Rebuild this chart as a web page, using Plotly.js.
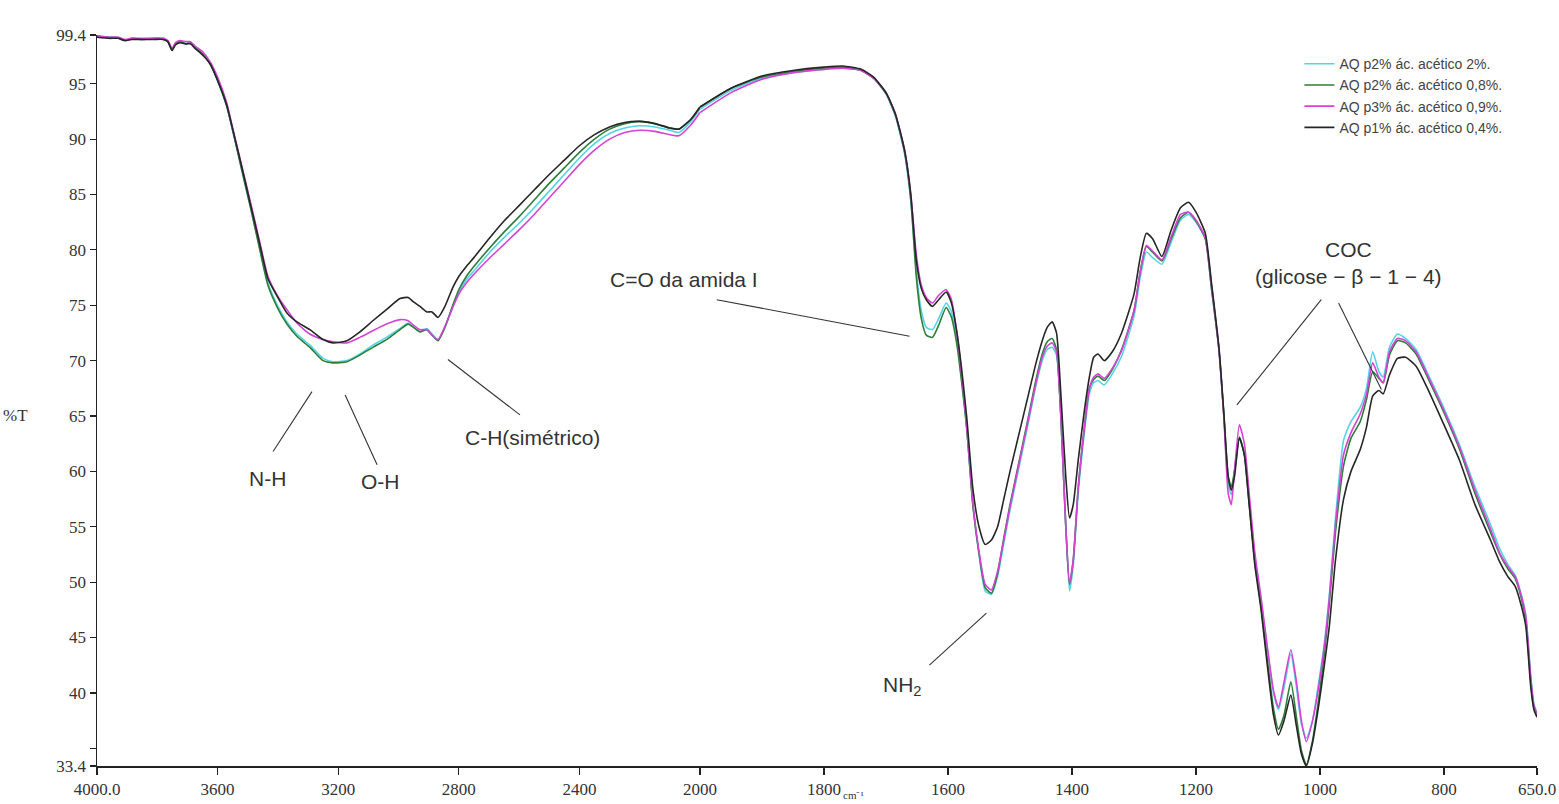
<!DOCTYPE html>
<html>
<head>
<meta charset="utf-8">
<script src="https://cdn.plot.ly/plotly-3.0.1.min.js"></script>
<style>html,body{margin:0;padding:0;background:#fff;}#chart{width:1559px;height:804px;}</style>
</head>
<body>
<div id="chart"></div>
<script>
// Wavenumbers (cm-1), 4000 -> 650
const wavenumber = [
  4000,3960,3930,3907,3885,3850,3810,3780,
  3765,3751,3740,3725,3705,3690,3675,3650,
  3625,3600,3570,3550,3520,3490,3460,3433,
  3400,3370,3337,3294,3250,3217,3171,3128,
  3085,3040,2995,2968,2950,2929,2906,2889,
  2869,2846,2820,2800,2775,2750,2700,2650,
  2600,2550,2500,2450,2400,2350,2300,2250,
  2200,2150,2100,2070,2030,2000,
  1950,1900,1850,1800,1770,1740,1720,
  1700,1685,1670,1660,1651,1643,1635,1625,
  1615,1603,1595,1585,1570,1560,1550,1540,
  1530,1520,1510,1500,1485,1470,1458,1448,
  1440,1432,1425,1418,1410,1404,1398,1390,
  1380,1372,1365,1358,1348,1335,1320,1300,
  1290,1280,1270,1255,1240,1225,1212,1200,
  1185,1175,1163,1155,1148,1143,1138,1130,
  1122,1115,1105,1095,1085,1075,1067,1058,
  1047,1038,1030,1022,1012,1002,993,985,
  975,962,950,935,925,915,905,898,
  888,875,862,845,825,800,775,750,
  725,710,697,685,675,668,660,655,650
];

// %T — AQ p2% ác. acético 2%. (cyan)
const tP2_20 = [
  99.3,99.2,99.2,98.9,99.1,99.0,99.1,99.1,
  98.8,98.1,98.6,98.8,98.6,98.7,98.3,97.7,
  96.8,95.3,93.0,90.8,87.3,83.8,80.2,77.0,
  74.9,73.5,72.4,71.4,70.2,69.9,70.0,70.6,
  71.4,72.1,72.9,73.4,73.0,72.6,72.9,72.4,
  71.9,73.0,74.9,76.2,77.3,78.1,79.7,81.1,
  82.4,83.8,85.3,86.8,88.3,89.6,90.5,91.0,
  91.2,91.1,90.8,90.6,91.6,92.7,
  94.4,95.5,96.0,96.3,96.4,96.2,95.5,
  94.1,92.1,88.7,84.5,78.0,74.5,73.0,72.8,
  73.8,75.2,74.5,71.5,64.0,57.0,52.5,49.2,
  48.9,50.5,53.5,56.5,60.5,64.5,67.8,70.0,
  71.0,71.2,70.5,65.0,55.0,49.2,51.5,58.0,
  63.5,67.0,68.0,68.2,67.8,68.8,70.4,74.0,
  77.5,79.8,79.3,78.7,80.7,82.7,83.2,82.5,
  81.0,76.5,71.0,65.0,58.8,57.9,60.0,63.1,
  61.6,57.8,52.3,48.3,44.0,40.0,38.5,40.5,
  43.5,40.5,37.2,35.9,37.5,41.0,44.5,48.8,
  55.8,62.8,64.5,65.8,67.5,70.8,69.0,68.5,
  71.2,72.4,72.0,71.0,68.7,65.7,62.4,58.6,
  55.2,53.0,51.6,50.6,48.8,47.0,41.5,39.0,38.2
];

// %T — AQ p2% ác. acético 0,8%. (green)
const tP2_08 = [
  99.3,99.2,99.1,98.9,99.1,99.0,99.1,99.0,
  98.8,98.1,98.6,98.8,98.6,98.7,98.3,97.7,
  96.8,95.3,93.0,90.8,87.2,83.7,80.0,76.8,
  74.7,73.3,72.2,71.2,70.0,69.8,69.9,70.5,
  71.2,71.9,72.8,73.3,73.0,72.6,72.8,72.3,
  71.8,73.0,75.0,76.4,77.6,78.5,80.1,81.6,
  83.0,84.5,86.0,87.4,88.8,90.0,90.9,91.4,
  91.6,91.4,91.0,90.9,91.8,92.9,
  94.6,95.6,96.1,96.4,96.5,96.2,95.5,
  94.1,92.2,88.8,84.5,77.5,73.8,72.3,72.1,
  73.2,74.8,74.0,71.2,64.0,57.0,52.6,49.5,
  49.0,50.8,54.0,57.0,61.0,65.0,68.3,70.6,
  71.7,72.0,71.0,65.0,55.0,49.8,52.0,58.5,
  64.0,67.5,68.3,68.6,68.2,69.2,71.0,74.5,
  78.0,80.3,79.8,79.0,81.0,82.9,83.4,82.6,
  81.0,76.5,71.0,65.0,59.5,58.6,60.0,63.1,
  61.5,57.5,51.8,47.8,43.0,38.6,36.7,38.0,
  41.0,37.8,34.8,33.5,35.7,39.5,43.5,48.0,
  54.5,60.5,63.0,64.5,66.5,69.0,68.4,68.0,
  70.5,71.8,71.6,70.6,68.3,65.3,62.0,58.0,
  54.5,52.5,51.2,50.3,48.5,46.5,41.0,38.7,38.0
];

// %T — AQ p3% ác. acético 0,9%. (magenta)
const tP3_09 = [
  99.3,99.2,99.2,99.0,99.1,99.1,99.1,99.1,
  98.9,98.2,98.7,98.9,98.8,98.8,98.4,97.9,
  97.0,95.6,93.3,91.0,87.6,84.2,80.7,77.6,
  75.8,74.6,73.4,72.4,71.9,71.7,71.6,72.1,
  72.7,73.3,73.7,73.6,73.2,72.8,72.8,72.3,
  71.9,73.1,74.8,76.0,77.0,77.8,79.2,80.5,
  81.8,83.2,84.7,86.2,87.7,89.0,90.0,90.6,
  90.8,90.7,90.4,90.3,91.3,92.4,
  94.2,95.4,96.0,96.3,96.4,96.2,95.5,
  94.2,92.3,89.0,85.0,79.5,76.8,75.7,75.2,
  75.9,76.4,75.6,72.2,64.2,57.2,52.8,49.8,
  49.3,51.0,53.8,56.8,60.8,64.8,68.0,70.3,
  71.3,71.6,70.8,65.0,55.0,49.9,52.0,58.5,
  64.0,67.5,68.5,68.8,68.4,69.3,70.9,74.5,
  78.0,80.4,79.9,79.1,81.2,83.2,83.4,82.7,
  81.1,76.8,71.0,64.8,58.0,57.0,60.0,64.2,
  62.5,58.5,52.6,48.6,44.2,40.2,38.7,41.0,
  43.9,41.0,37.5,35.6,37.5,40.6,44.2,48.5,
  55.2,61.5,63.5,65.2,67.0,69.8,68.5,68.0,
  70.8,72.0,71.8,70.8,68.5,65.5,62.2,58.3,
  54.8,52.6,51.4,50.5,48.7,46.9,41.3,38.9,38.1
];

// %T — AQ p1% ác. acético 0,4%. (black)
const tP1_04 = [
  99.2,99.1,99.1,98.9,99.0,99.0,99.0,99.0,
  98.8,98.0,98.5,98.7,98.6,98.6,98.2,97.6,
  96.8,95.3,93.1,90.9,87.5,84.0,80.5,77.4,
  75.7,74.3,73.5,72.8,71.9,71.6,71.8,72.6,
  73.6,74.6,75.6,75.7,75.3,74.9,74.4,74.4,
  73.9,74.9,76.6,77.6,78.5,79.3,81.0,82.6,
  84.0,85.4,86.8,88.1,89.4,90.4,91.1,91.5,
  91.6,91.4,91.0,90.9,91.8,92.9,
  94.6,95.7,96.2,96.5,96.6,96.3,95.6,
  94.2,92.3,89.0,85.0,79.0,76.5,75.5,74.9,
  75.5,76.2,75.3,72.3,65.0,58.5,55.0,53.4,
  53.8,55.0,57.5,60.0,63.5,67.0,69.8,71.8,
  73.0,73.5,72.5,67.0,59.5,55.8,57.0,61.0,
  65.5,68.5,70.3,70.6,70.0,70.8,72.5,76.0,
  79.3,81.5,81.0,79.4,81.8,83.8,84.3,83.4,
  81.5,77.0,71.2,65.2,59.5,58.3,59.5,63.0,
  61.5,57.5,51.5,47.5,42.5,38.0,36.2,37.5,
  39.8,37.0,34.5,33.4,35.5,38.9,42.5,46.0,
  52.0,57.5,60.0,62.0,64.0,66.8,67.3,67.0,
  68.7,70.2,70.3,69.5,67.3,64.2,61.0,57.0,
  53.8,51.8,50.5,49.6,47.8,46.0,40.5,38.5,37.8
];

const seriesNames = [
  'AQ p2% ác. acético 2%.',
  'AQ p2% ác. acético 0,8%.',
  'AQ p3% ác. acético 0,9%.',
  'AQ p1% ác. acético 0,4%.'
];
const seriesValues = [tP2_20, tP2_08, tP3_09, tP1_04];
const seriesColors = ['#55d4e4', '#2e7d3a', '#d443d4', '#262626'];

const xTicksHigh = [4000, 3600, 3200, 2800, 2400];
const xTickTextHigh = ['4000.0', '3600', '3200', '2800', '2400'];
const xTicksLow = [2000, 1800, 1600, 1400, 1200, 1000, 800, 650];
const xTickTextLow = ['2000', '1800', '1600', '1400', '1200', '1000', '800', '650.0'];
const yTicks = [33.4, 40, 45, 50, 55, 60, 65, 70, 75, 80, 85, 90, 95, 99.4];
const yTickText = ['33.4', '40', '45', '50', '55', '60', '65', '70', '75', '80', '85', '90', '95', '99.4'];
const yMinorTicks = [35];

const traces = [];
seriesValues.forEach((vals, i) => {
  const hiX = [], hiY = [], loX = [], loY = [];
  wavenumber.forEach((w, k) => {
    if (w >= 2000) { hiX.push(w); hiY.push(vals[k]); }
    if (w <= 2000) { loX.push(w); loY.push(vals[k]); }
  });
  const line = {color: seriesColors[i], width: 1.6, shape: 'spline', smoothing: 0.55};
  traces.push({x: hiX, y: hiY, type: 'scatter', mode: 'lines', xaxis: 'x', yaxis: 'y',
    name: seriesNames[i], legendgroup: 'g' + i, line: line});
  traces.push({x: loX, y: loY, type: 'scatter', mode: 'lines', xaxis: 'x2', yaxis: 'y',
    name: seriesNames[i], legendgroup: 'g' + i, showlegend: false, line: line});
});

const serif = 'Liberation Serif, Times New Roman, serif';
const sans = 'Liberation Sans, Arial, sans-serif';
const tickFont = {family: serif, size: 17, color: '#333'};
const axisCommon = {
  showgrid: false, zeroline: false, showline: true, linecolor: '#222', linewidth: 1.5,
  ticks: 'outside', ticklen: 7, tickcolor: '#222', tickwidth: 1.2, tickfont: tickFont,
  tickmode: 'array', fixedrange: true
};
const split = 603 / 1440;

const annFont = {family: sans, size: 21, color: '#333'};
const annotations = [
  {xref: 'x', yref: 'y', x: 3433, y: 59.4, text: 'N-H', showarrow: false, font: annFont},
  {xref: 'x', yref: 'y', x: 3061, y: 59.1, text: 'O-H', showarrow: false, font: annFont},
  {xref: 'x', yref: 'y', x: 2554, y: 63.1, text: 'C-H(simétrico)', showarrow: false, font: annFont},
  {xref: 'x', yref: 'y', x: 2305, y: 77.3, xanchor: 'left', text: 'C=O da amida I', showarrow: false, font: annFont},
  {xref: 'x2', yref: 'y', x: 1673, y: 40.6, text: 'NH<sub>2</sub>', showarrow: false, font: annFont},
  {xref: 'x2', yref: 'y', x: 954, y: 80.0, text: 'COC', showarrow: false, font: annFont},
  {xref: 'x2', yref: 'y', x: 954, y: 77.6, text: '(glicose − β − 1 − 4)', showarrow: false, font: annFont},
  {xref: 'paper', yref: 'paper', x: -0.0465, y: 0.480, xanchor: 'right', text: '%T', showarrow: false,
    font: {family: serif, size: 17, color: '#333'}},
  {xref: 'paper', yref: 'paper', x: 0.5174, y: -0.0495, xanchor: 'left', yanchor: 'bottom', text: 'cm⁻¹', showarrow: false,
    font: {family: serif, size: 11, color: '#333'}, borderpad: 0}
];

const pointer = (xref, x0, y0, x1, y1) => ({type: 'line', xref: xref, yref: 'y', x0: x0, y0: y0, x1: x1, y1: y1,
  line: {color: '#333', width: 1.1}});
const shapes = [
  pointer('x', 3416, 61.8, 3287, 67.2),
  pointer('x', 3177, 66.9, 3071, 60.6),
  pointer('x', 2836, 70.1, 2597, 65.1),
  pointer('x2', 1973, 75.5, 1662, 72.2),
  pointer('x2', 1630, 42.5, 1538, 47.2),
  pointer('x2', 1134, 66.0, 998, 75.5),
  pointer('x2', 970, 75.2, 901, 67.4)
];

const layout = {
  width: 1559, height: 804,
  margin: {l: 97, r: 22, t: 35, b: 38},
  paper_bgcolor: '#fff', plot_bgcolor: '#fff',
  showlegend: true,
  legend: {x: 0.835, y: 0.982, xanchor: 'left', yanchor: 'top', bgcolor: 'rgba(0,0,0,0)',
    font: {family: sans, size: 14, color: '#444'}, traceorder: 'grouped', tracegroupgap: 0, itemwidth: 30},
  xaxis: Object.assign({}, axisCommon, {domain: [0, split], range: [4000, 2000], anchor: 'y',
    tickvals: xTicksHigh, ticktext: xTickTextHigh}),
  xaxis2: Object.assign({}, axisCommon, {domain: [split, 1], range: [2000, 650], anchor: 'y',
    tickvals: xTicksLow, ticktext: xTickTextLow}),
  yaxis: Object.assign({}, axisCommon, {range: [33.4, 99.4], anchor: 'x', ticklen: 6,
    tickvals: yTicks, ticktext: yTickText,
    minor: {tickmode: 'array', tickvals: yMinorTicks, ticks: 'outside', ticklen: 6, tickcolor: '#222', showgrid: false}}),
  annotations: annotations,
  shapes: shapes
};

Plotly.newPlot('chart', traces, layout, {staticPlot: true, displayModeBar: false});
</script>
</body>
</html>
